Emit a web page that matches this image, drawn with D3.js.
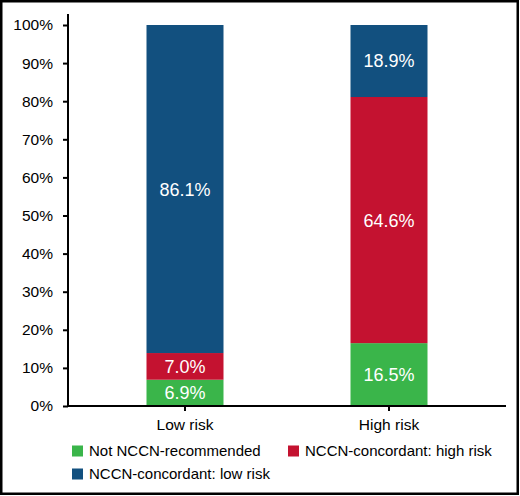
<!DOCTYPE html>
<html>
<head>
<meta charset="utf-8">
<script src="https://cdn.jsdelivr.net/npm/d3@7"></script>
<style>
  body { margin: 0; background: #fff; overflow: hidden; }
  text { font-family: "Liberation Sans", Arial, sans-serif; }
</style>
</head>
<body>
<div id="chart"></div>
<script>
const categories = ['Low risk', 'High risk']
const seriesNames = ['Not NCCN-recommended', 'NCCN-concordant: high risk', 'NCCN-concordant: low risk']
const notRecommended = [6.9, 16.5]
const concordantHigh = [7.0, 64.6]
const concordantLow = [86.1, 18.9]
const yTicks = [0, 10, 20, 30, 40, 50, 60, 70, 80, 90, 100]

const colors = ['#3AB54A', '#C41230', '#12507F']

const W = 520
const H = 496

const rows = categories.map((c, i) => ({
  cat: c,
  [seriesNames[0]]: notRecommended[i],
  [seriesNames[1]]: concordantHigh[i],
  [seriesNames[2]]: concordantLow[i]
}))

const stacked = d3.stack().keys(seriesNames)(rows)

const svg = d3.select('#chart').append('svg')
  .attr('width', W)
  .attr('height', H)

// outer frame
svg.append('rect')
  .attr('x', 1.25).attr('y', 1.25)
  .attr('width', W - 3.5).attr('height', H - 3.5)
  .attr('fill', '#fff')
  .attr('stroke', '#000')
  .attr('stroke-width', 2.5)

const x = d3.scaleBand()
  .domain(categories)
  .range([83, 491])

const barW = 77

const y = d3.scaleLinear()
  .domain([0, 100])
  .range([406, 25])

// bars
const layer = svg.append('g')
  .selectAll('g')
  .data(stacked)
  .join('g')
  .attr('fill', (d, i) => colors[i])

layer.selectAll('rect')
  .data(d => d)
  .join('rect')
  .attr('x', d => x(d.data.cat) + x.bandwidth() / 2 - barW / 2)
  .attr('width', barW)
  .attr('y', d => y(d[1]))
  .attr('height', d => y(d[0]) - y(d[1]))

// segment labels
layer.selectAll('text')
  .data(d => d.map(v => ({ v, key: d.key })))
  .join('text')
  .attr('x', d => x(d.v.data.cat) + x.bandwidth() / 2)
  .attr('y', d => y((d.v[0] + d.v[1]) / 2))
  .attr('dy', '0.36em')
  .attr('text-anchor', 'middle')
  .attr('fill', '#fff')
  .style('font-size', '18px')
  .text(d => d3.format('.1f')(d.v.data[d.key]) + '%')

// y axis
const yAxis = svg.append('g')
  .attr('transform', 'translate(68,0)')
  .call(d3.axisLeft(y)
    .tickValues(yTicks)
    .tickSize(5)
    .tickSizeOuter(0)
    .tickPadding(10)
    .tickFormat(d => d + '%'))
yAxis.select('.domain')
  .attr('d', `M0,${y(0)}V${y(100) - 11}`)
yAxis.selectAll('line, path').attr('stroke', '#000').attr('stroke-width', 2)
yAxis.selectAll('text').style('font-size', '15.5px').attr('fill', '#000')

// x axis
const xAxis = svg.append('g')
  .attr('transform', `translate(0,${y(0)})`)
  .call(d3.axisBottom(x)
    .tickSize(5)
    .tickSizeOuter(0)
    .tickPadding(8))
xAxis.select('.domain')
  .attr('d', 'M67,0H506')
xAxis.selectAll('line, path').attr('stroke', '#000').attr('stroke-width', 2)
xAxis.selectAll('text').style('font-size', '15.5px').attr('fill', '#000')

// legend
const legendPos = [[72, 451], [288, 451], [72, 474]]
const legend = svg.append('g')
  .selectAll('g')
  .data(seriesNames)
  .join('g')
  .attr('transform', (d, i) => `translate(${legendPos[i][0]},${legendPos[i][1]})`)

legend.append('rect')
  .attr('x', 0).attr('y', -5.5)
  .attr('width', 11).attr('height', 11)
  .attr('fill', (d, i) => colors[i])

legend.append('text')
  .attr('x', 17)
  .attr('dy', '0.36em')
  .style('font-size', '15px')
  .attr('fill', '#000')
  .text(d => d)
</script>
</body>
</html>
